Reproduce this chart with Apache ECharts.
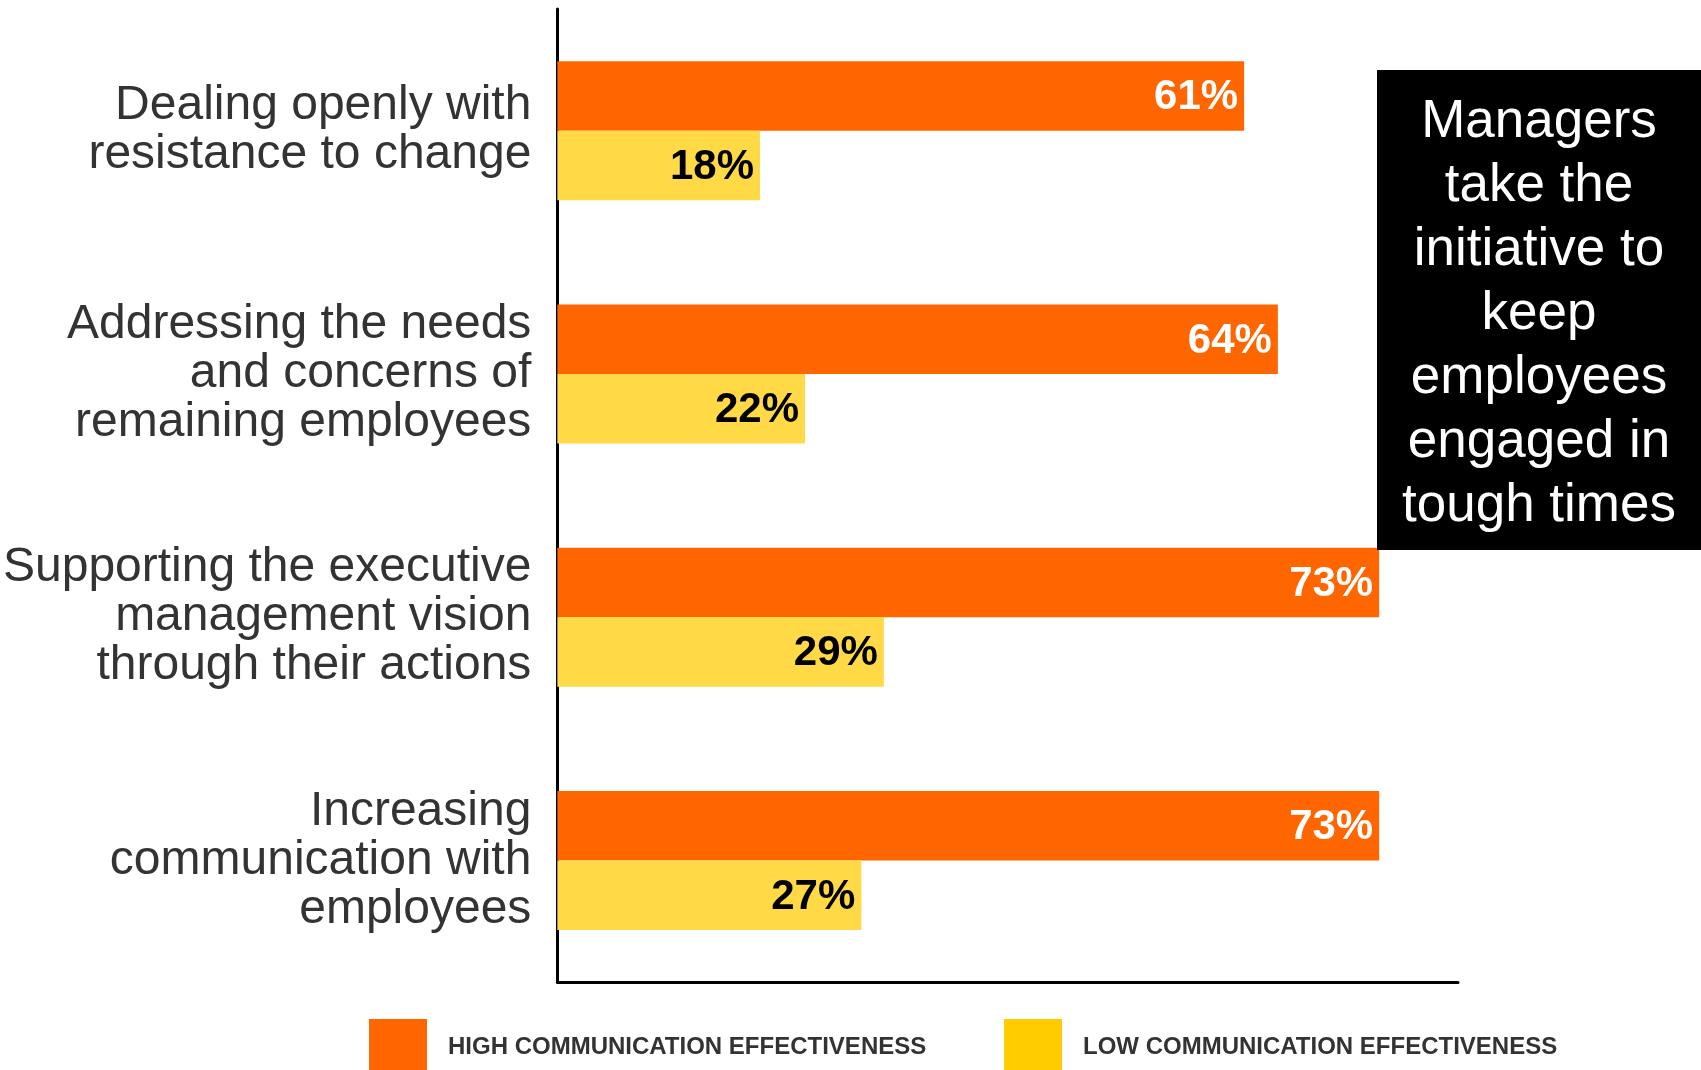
<!DOCTYPE html>
<html>
<head>
<meta charset="utf-8">
<script src="https://cdn.jsdelivr.net/npm/echarts@6/dist/echarts.min.js"></script>
<style>
  html, body { margin: 0; padding: 0; background: #fff; }
  #chart { width: 1701px; height: 1070px; }
</style>
</head>
<body>
<div id="chart"></div>
<script>
// Manager behaviours by communication effectiveness (% of respondents)
const categories = [
  'Dealing openly with\nresistance to change',
  'Addressing the needs\nand concerns of\nremaining employees',
  'Supporting the executive\nmanagement vision\nthrough their actions',
  'Increasing\ncommunication with\nemployees'
];
const highEffectiveness = [61, 64, 73, 73];
const lowEffectiveness = [18, 22, 29, 27];
const seriesNames = ['HIGH COMMUNICATION EFFECTIVENESS', 'LOW COMMUNICATION EFFECTIVENESS'];
const calloutText = 'Managers\ntake the\ninitiative to\nkeep\nemployees\nengaged in\ntough times';

const FONT = "Arial, 'Liberation Sans', sans-serif";
const ORANGE = '#FF6600';
const YELLOW_BAR = '#FFD946';
const YELLOW_KEY = '#FFCC00';

const chart = echarts.init(document.getElementById('chart'), null, { renderer: 'canvas' });

const legendCommon = {
  top: 1014,
  itemWidth: 58,
  itemHeight: 56,
  icon: 'rect',
  selectedMode: false,
  textStyle: {
    fontFamily: FONT,
    fontSize: 24,
    fontWeight: 'bold',
    color: '#333333',
    padding: [0, 0, 0, 16]
  }
};

chart.setOption({
  animation: false,
  backgroundColor: '#ffffff',
  grid: { left: 557, right: 243, top: 9, bottom: 88, containLabel: false },
  legend: [
    Object.assign({}, legendCommon, {
      left: 364,
      data: [{ name: seriesNames[0], itemStyle: { color: ORANGE } }]
    }),
    Object.assign({}, legendCommon, {
      left: 999,
      data: [{ name: seriesNames[1], itemStyle: { color: YELLOW_KEY } }]
    })
  ],
  xAxis: {
    type: 'value',
    min: 0,
    max: 80,
    axisLine: { show: true, lineStyle: { color: '#000', width: 3 } },
    axisTick: { show: false },
    axisLabel: { show: false },
    splitLine: { show: false }
  },
  yAxis: {
    type: 'category',
    inverse: true,
    data: categories,
    axisLine: { show: true, lineStyle: { color: '#000', width: 3 } },
    axisTick: { show: false },
    axisLabel: {
      fontFamily: FONT,
      fontSize: 48,
      lineHeight: 49,
      color: '#333333',
      margin: 26,
      align: 'right',
      padding: [6, 0, 0, 0]
    }
  },
  series: [
    {
      name: seriesNames[0],
      type: 'bar',
      data: highEffectiveness,
      barWidth: 69.5,
      barGap: '0%',
      itemStyle: { color: ORANGE },
      label: {
        show: true,
        position: 'insideRight',
        distance: 6,
        offset: [0, 2],
        formatter: '{c}%',
        fontFamily: FONT,
        fontSize: 42,
        fontWeight: 'bold',
        color: '#ffffff'
      }
    },
    {
      name: seriesNames[1],
      type: 'bar',
      data: lowEffectiveness,
      barWidth: 69.5,
      barGap: '0%',
      itemStyle: { color: YELLOW_BAR },
      label: {
        show: true,
        position: 'insideRight',
        distance: 6,
        offset: [0, 2],
        formatter: '{c}%',
        fontFamily: FONT,
        fontSize: 42,
        fontWeight: 'bold',
        color: '#000000'
      }
    }
  ],
  graphic: [
    {
      type: 'rect',
      left: 1377,
      top: 70,
      shape: { width: 324, height: 480 },
      style: { fill: '#000000' },
      z: 10
    },
    {
      type: 'text',
      z: 11,
      style: {
        text: calloutText,
        x: 1539,
        y: 314,
        textAlign: 'center',
        textVerticalAlign: 'middle',
        fontFamily: FONT,
        fontSize: 53,
        lineHeight: 64,
        fill: '#ffffff'
      }
    }
  ]
});
</script>
</body>
</html>
